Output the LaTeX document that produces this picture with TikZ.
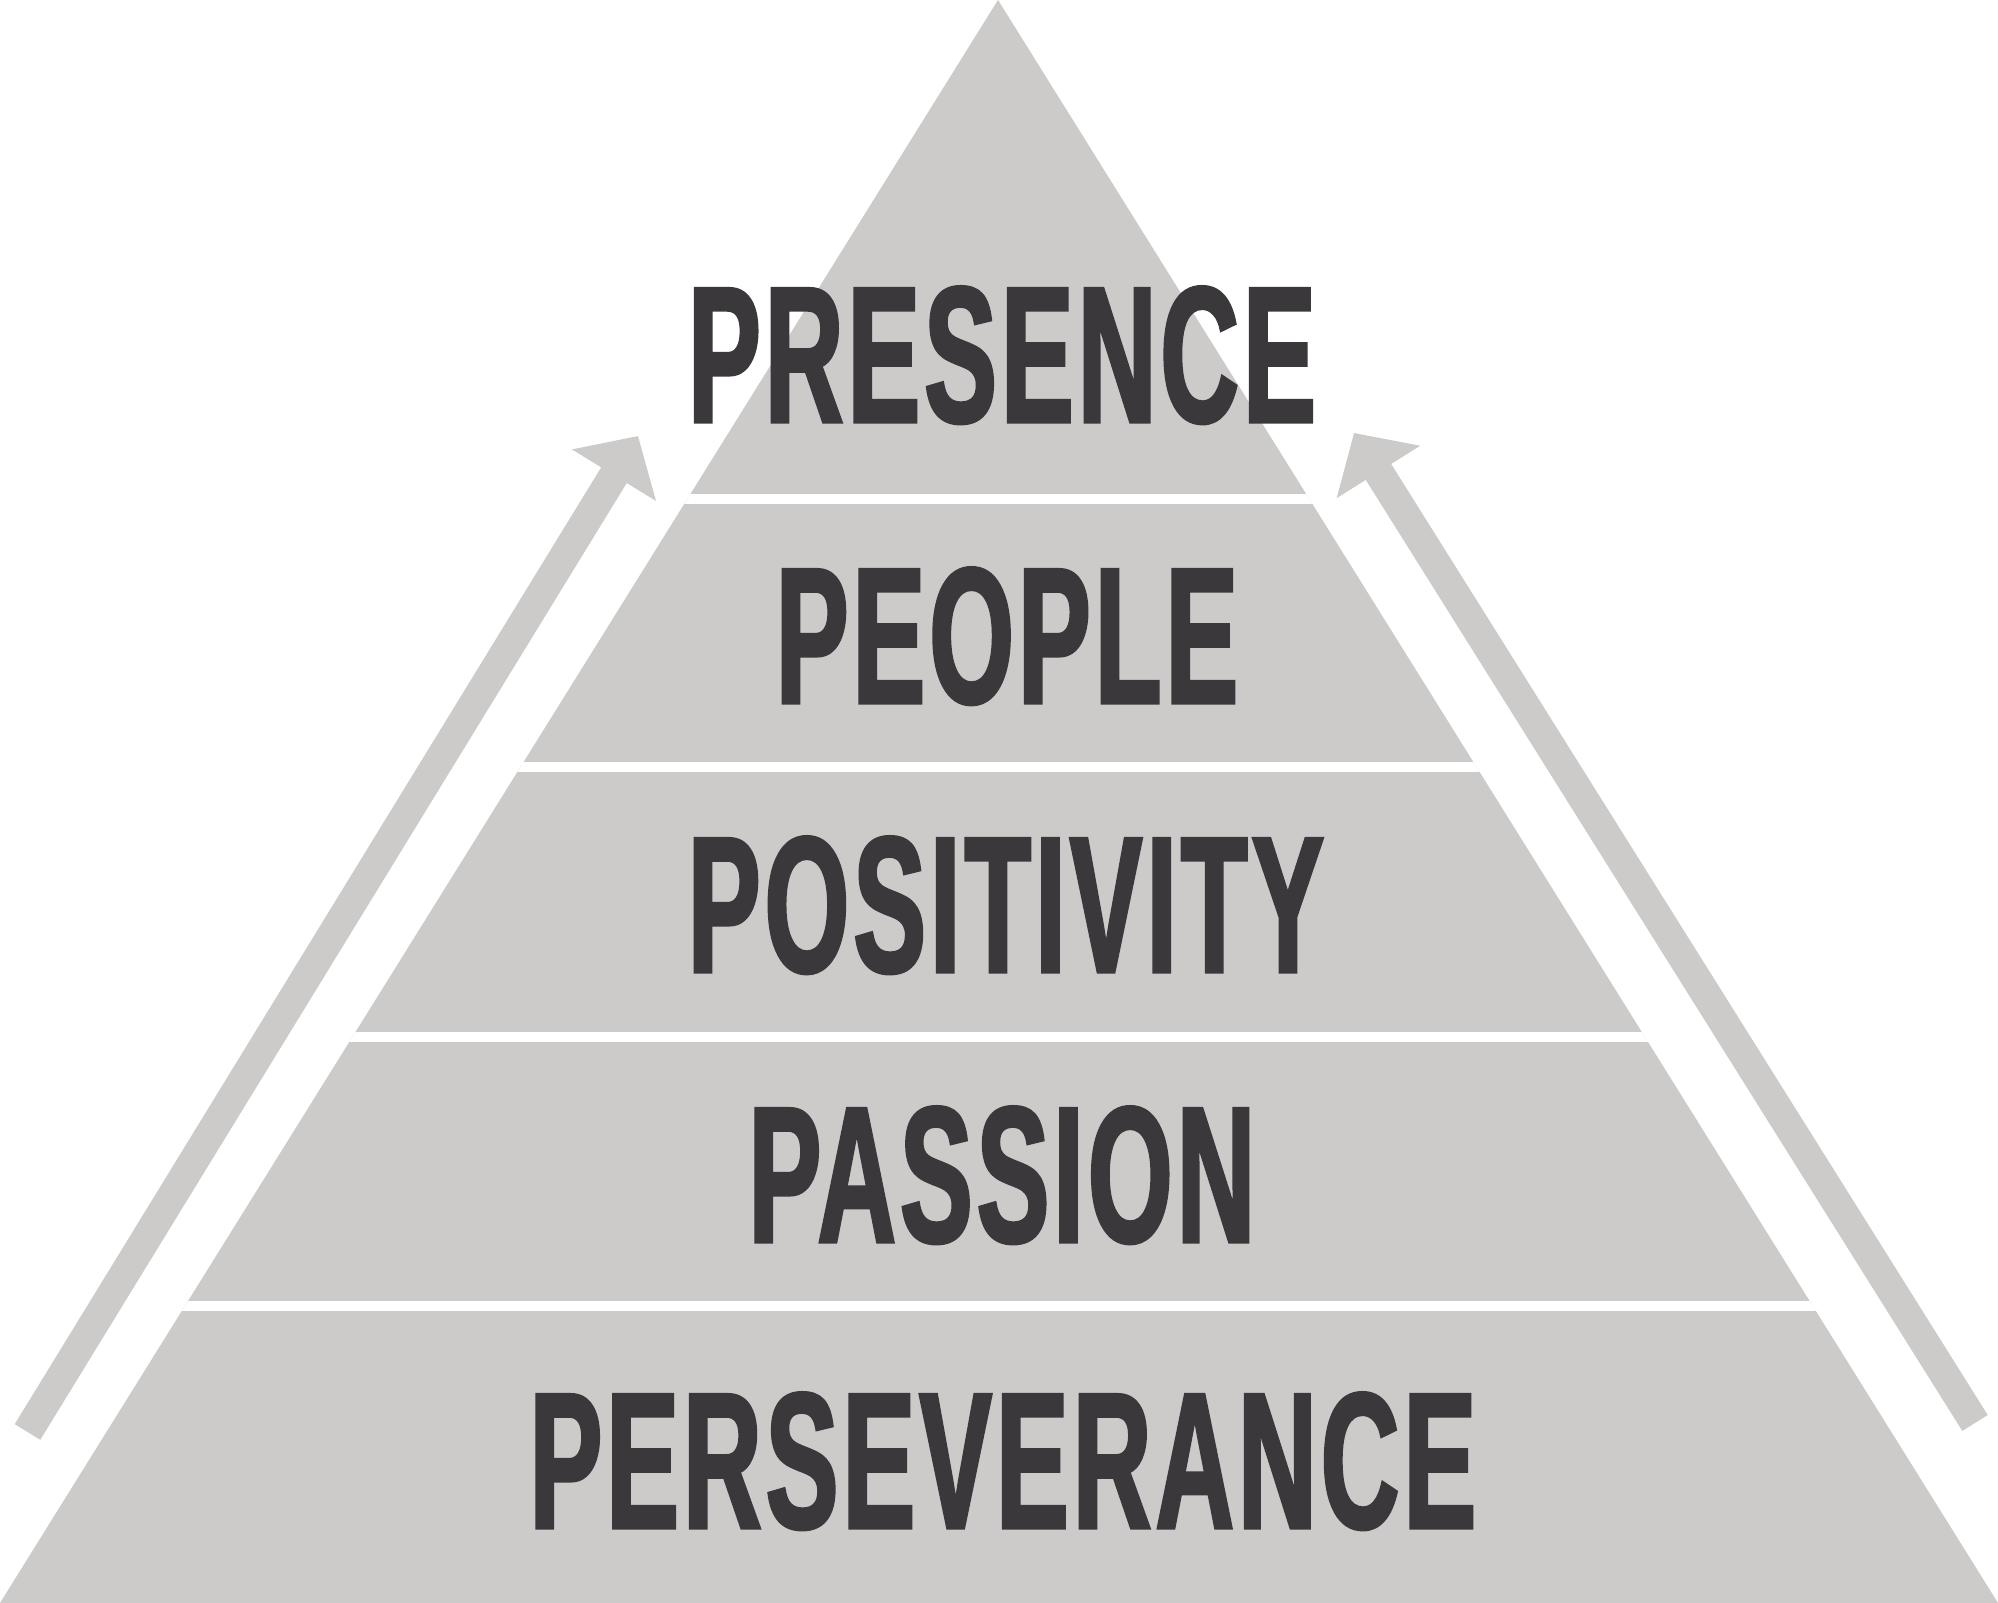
\documentclass[tikz,border=0pt]{standalone}
\usepackage{fontspec}
\newfontfamily\pyrfont{Liberation Sans}[FakeStretch=0.56, FakeBold=1.6, LetterSpace=2.2]
\usetikzlibrary{arrows.meta}
\definecolor{pyrgray}{HTML}{CCCBCA}
\definecolor{wordgray}{HTML}{3A383B}
\tikzstyle{layer} = [fill=pyrgray]
\tikzstyle{gap} = [fill=white]
\tikzstyle{word} = [anchor=base, inner sep=0pt, text=wordgray, font=\pyrfont\bfseries\fontsize{55.2}{60}\selectfont]
\tikzstyle{riser} = [draw=pyrgray, line width=3mm, -{Triangle[width=9.6mm, length=4.6mm]}]

\begin{document}
\begin{tikzpicture}
			\useasboundingbox (0,0) rectangle (19.98,16.03);
			\coordinate (bl) at (0,0);
			\coordinate (br) at (19.98,0);
			\coordinate (apex) at (9.98,16.03);
			
			\path [layer] (bl) -- (br) -- (apex) -- cycle;
			\begin{scope}
				\clip (bl) -- (br) -- (apex) -- cycle;
				\foreach \y in {10.99, 8.31, 5.61, 2.92}
					\fill [gap] (0,\y) rectangle (19.98,\y+0.095);
			\end{scope}
			
			\coordinate (lfoot) at (0.275,1.71);
			\coordinate (ltip) at (6.38,11.67);
			\coordinate (rfoot) at (19.75,1.80);
			\coordinate (rtip) at (13.54,11.70);
			\draw [riser] (lfoot) -- (ltip);
			\draw [riser] (rfoot) -- (rtip);
			
			\node [word] (presence) at (10.02,11.81) {PRESENCE};
			\node [word] (people) at (10.07,9.00) {PEOPLE};
			\node [word] (positivity) at (10.06,6.31) {POSITIVITY};
			\node [word] (passion) at (10.02,3.61) {PASSION};
			\node [word] (perseverance) at (10.03,0.75) {PERSEVERANCE};
		\end{tikzpicture}
\end{document}
